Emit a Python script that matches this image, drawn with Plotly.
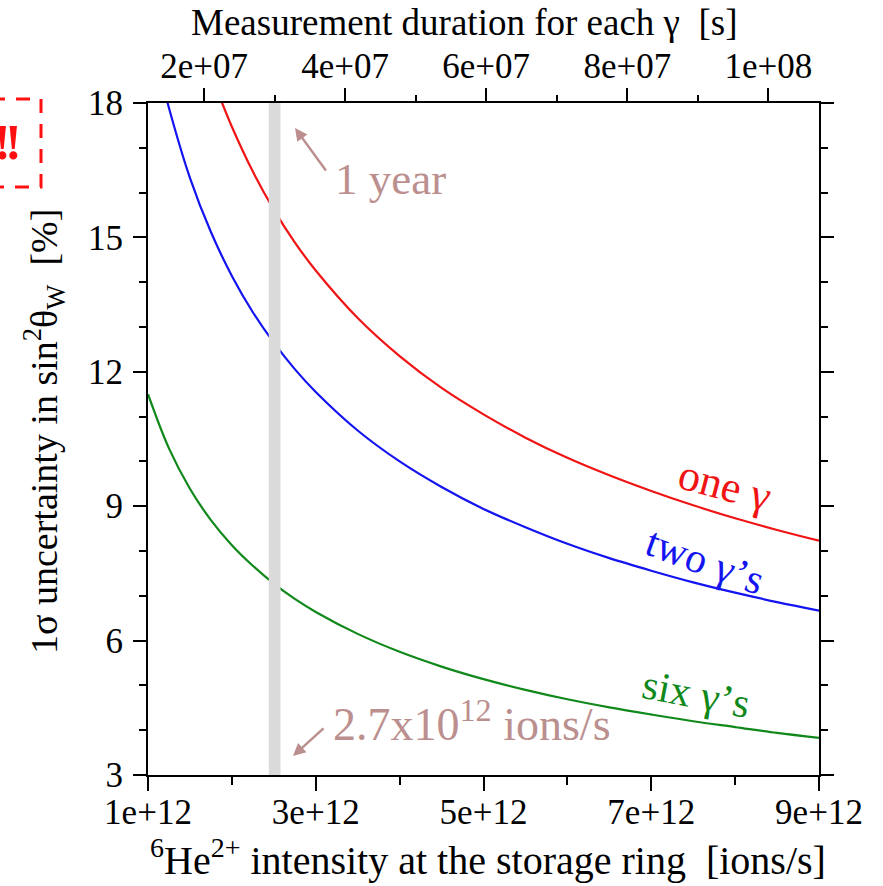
import plotly.graph_objects as go

# Sensitivity curves: 1-sigma uncertainty on sin^2(theta_W) [%] vs 6He2+ intensity [ions/s]
intensity_one = [1.85e12, 2.0e12, 2.25e12, 2.5e12, 2.75e12, 3.0e12, 3.5e12, 4.0e12, 4.5e12,
                 5.0e12, 5.5e12, 6.0e12, 6.5e12, 7.0e12, 7.5e12, 8.0e12, 8.5e12, 9.0e12]
sigma_one = [18.16, 17.47, 16.47, 15.62, 14.89, 14.26, 13.20, 12.35, 11.64,
             11.05, 10.53, 10.08, 9.69, 9.34, 9.02, 8.73, 8.47, 8.23]

intensity_two = [1.2e12, 1.25e12, 1.5e12, 1.75e12, 2.0e12, 2.25e12, 2.5e12, 2.75e12, 3.0e12,
                 3.5e12, 4.0e12, 4.5e12, 5.0e12, 5.5e12, 6.0e12, 6.5e12, 7.0e12, 7.5e12,
                 8.0e12, 8.5e12, 9.0e12]
sigma_two = [18.26, 17.89, 16.33, 15.12, 14.14, 13.33, 12.65, 12.06, 11.55,
             10.69, 10.00, 9.43, 8.94, 8.53, 8.16, 7.84, 7.56, 7.30,
             7.07, 6.86, 6.67]

intensity_six = [1.0e12, 1.25e12, 1.5e12, 1.75e12, 2.0e12, 2.25e12, 2.5e12, 2.75e12, 3.0e12,
                 3.5e12, 4.0e12, 4.5e12, 5.0e12, 5.5e12, 6.0e12, 6.5e12, 7.0e12, 7.5e12,
                 8.0e12, 8.5e12, 9.0e12]
sigma_six = [11.50, 10.29, 9.39, 8.69, 8.13, 7.67, 7.27, 6.93, 6.64,
             6.15, 5.75, 5.42, 5.14, 4.90, 4.69, 4.51, 4.35, 4.20,
             4.07, 3.94, 3.83]

# Axis ticks
x_ticks = [1e12, 3e12, 5e12, 7e12, 9e12]
x_ticktext = ["1e+12", "3e+12", "5e+12", "7e+12", "9e+12"]
x_minor = [2e12, 4e12, 6e12, 8e12]
t_ticks = [2e7, 4e7, 6e7, 8e7, 1e8]
t_ticktext = ["2e+07", "4e+07", "6e+07", "8e+07", "1e+08"]
t_minor = [3e7, 5e7, 7e7, 9e7]
y_ticks = [3, 6, 9, 12, 15, 18]

# Intensity reachable in one year of running (grey band)
band_intensity = [2.44e12, 2.58e12]

W, H = 883, 886
ML, MR, MT, MB = 148, 64, 103, 111
PW, PH = W - ML - MR, H - MT - MB


def px(xp):
    return (xp - ML) / PW


def py(yp):
    return (H - MB - yp) / PH


SERIF = "Liberation Serif"
NOTE = "#bc8f8f"
RED, BLUE, GREEN = "#f01414", "#1414f0", "#10881a"

fig = go.Figure()
for xs, ys, col in [(intensity_one, sigma_one, RED),
                    (intensity_two, sigma_two, BLUE),
                    (intensity_six, sigma_six, GREEN)]:
    fig.add_trace(go.Scatter(x=xs, y=ys, mode="lines", line=dict(color=col, width=2.2, shape="spline"),
                             showlegend=False, hoverinfo="skip"))

# companion trace for the duration axis on top
fig.add_trace(go.Scatter(x=[t_ticks[0]], y=[None], xaxis="x2", mode="lines", showlegend=False,
                         hoverinfo="skip"))

fig.add_shape(type="rect", xref="x", yref="paper", x0=band_intensity[0], x1=band_intensity[1],
              y0=0, y1=1, fillcolor="#dadada", line=dict(width=0), layer="above")

# dashed frame at the top left
fig.add_shape(type="rect", xref="paper", yref="paper", x0=px(-60), x1=px(41), y0=py(187), y1=py(99),
              line=dict(color="#ff1010", width=3, dash="14px,11px"))

tick_font = dict(family=SERIF, size=35, color="black")
axis_common = dict(showline=True, linecolor="black", linewidth=2, ticks="outside", tickwidth=2,
                   tickcolor="black", showgrid=False, zeroline=False, tickfont=tick_font)

fig.update_layout(
    width=W, height=H, margin=dict(l=ML, r=MR, t=MT, b=MB),
    paper_bgcolor="white", plot_bgcolor="white",
    xaxis=dict(range=[1e12, 9e12], tickmode="array", tickvals=x_ticks, ticktext=x_ticktext,
               ticklen=14, ticklabelstandoff=-9,
               minor=dict(tickvals=x_minor, ticklen=8, tickwidth=2, tickcolor="black", ticks="outside"),
               **axis_common),
    xaxis2=dict(range=[1.206e7, 1.0717e8], overlaying="x", side="top", anchor="y", tickmode="array",
                tickvals=t_ticks, ticktext=t_ticktext, ticklen=13, ticklabelstandoff=-4,
                minor=dict(tickvals=t_minor, ticklen=6, tickwidth=2, tickcolor="black", ticks="outside"),
                **axis_common),
    yaxis=dict(range=[3, 18], tickmode="array", tickvals=y_ticks, ticklen=13, mirror="ticks",
               minor=dict(dtick=1, tick0=3, ticklen=7, tickwidth=2, tickcolor="black", ticks="outside"),
               ticklabelstandoff=3, **axis_common),
)

ann = [
    dict(text="Measurement duration for each γ  [s]", x=px(464), y=py(23), size=37),
    dict(text="<sup>6</sup>He<sup>2+</sup> intensity at the storage ring  [ions/s]", x=px(488), y=py(858), size=40),
    dict(text="1σ uncertainty in sin<sup>2</sup>θ<sub>W</sub>  [%]", x=px(44), y=py(432), size=38, angle=-90),
    dict(text="1 year", x=px(390), y=py(179), size=45, color=NOTE),
    dict(text="2.7x10<sup>12</sup> ions/s", x=px(472), y=py(721), size=46, color=NOTE),
    dict(text="one γ", x=px(725), y=py(485), size=44, color=RED, angle=15),
    dict(text="two γ’s", x=px(705), y=py(561), size=42, color=BLUE, angle=20),
    dict(text="six γ’s", x=px(696), y=py(694), size=42, color=GREEN, angle=11),
]
for a in ann:
    fig.add_annotation(text=a["text"], xref="paper", yref="paper", x=a["x"], y=a["y"],
                       xanchor="center", yanchor="middle", showarrow=False,
                       textangle=a.get("angle", 0),
                       font=dict(family=SERIF, size=a["size"], color=a.get("color", "black")))

# exclamation marks inside the dashed frame
for cx in (2, 13):
    fig.add_annotation(text="<b>!</b>", xref="paper", yref="paper", x=px(cx), y=py(142),
                       xanchor="center", yanchor="middle", showarrow=False,
                       font=dict(family=SERIF, size=50, color="#ff1010"))

# pointer arrows
for hx, hy, tx, ty in [(295, 128, 327, 172), (293, 756, 325, 727)]:
    fig.add_annotation(text="", xref="paper", yref="paper", x=px(hx), y=py(hy), ax=tx - hx, ay=ty - hy,
                       showarrow=True, arrowhead=2, arrowsize=1, arrowwidth=2.5, arrowcolor=NOTE,
                       standoff=0, startstandoff=0)

fig.write_html("out.html")
